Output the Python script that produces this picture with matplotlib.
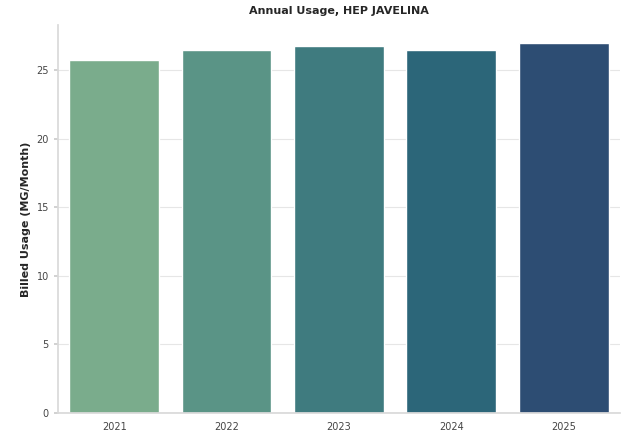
import matplotlib
matplotlib.use("Agg")
import matplotlib.pyplot as plt
import seaborn as sns

years = ["2021", "2022", "2023", "2024", "2025"]
usage = [25.75, 26.5, 26.8, 26.45, 26.95]
bar_colors = ["#7aac8c", "#5a9486", "#3f7b7f", "#2c6679", "#2d4d73"]

sns.set_theme(style="whitegrid")
plt.rcParams['font.family'] = ['DejaVu Sans']

fig, ax = plt.subplots(figsize=(6.23, 4.38), dpi=100)
ax.bar(years, usage, color=bar_colors, width=0.8)
ax.set_title("Annual Usage, HEP JAVELINA", fontsize=8, fontweight="bold", pad=8)
ax.set_ylabel("Billed Usage (MG/Month)", fontsize=8, fontweight="bold")
ax.tick_params(axis="both", labelsize=7, length=3, color="#cccccc", labelcolor="#444444", left=True)
ax.xaxis.grid(False)
ax.yaxis.grid(True, color="#e6e6e6", linewidth=0.8)
ax.set_xlim(-0.5, 4.5)
sns.despine(ax=ax)
for s in ["left", "bottom"]:
    ax.spines[s].set_color("#d9d9d9")
fig.subplots_adjust(left=0.093, right=0.995, top=0.943, bottom=0.057)
fig.savefig("out.png", dpi=100)
